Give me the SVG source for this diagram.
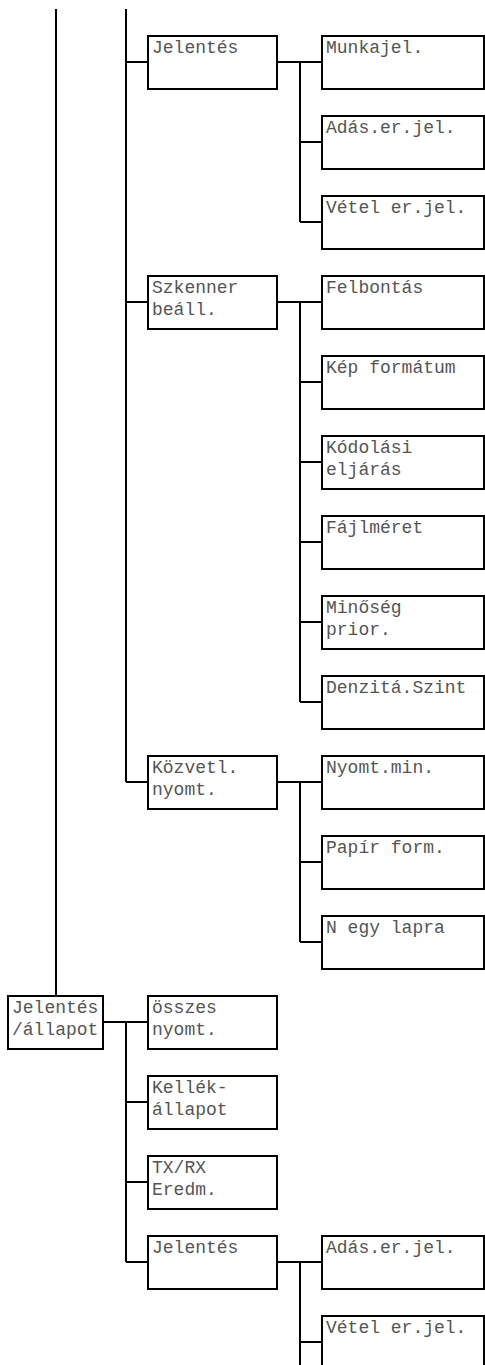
<svg xmlns="http://www.w3.org/2000/svg" width="485" height="1365" viewBox="0 0 485 1365">
<style>
.box{fill:#fff;stroke:#000;stroke-width:2}
.c{fill:none;stroke:#000;stroke-width:2}
text{font-family:"Liberation Mono","Courier New",monospace;font-size:18px;fill:#555}
</style>
<rect width="485" height="1365" fill="#fff"/>
<g id="connectors" class="c">
<path d="M56 9V996"/>
<path d="M126 9V782M126 62H148M126 302H148M126 782H148"/>
<path d="M277 62H322M300 62V222M300 142H322M300 222H322"/>
<path d="M277 302H322M300 302V702M300 382H322M300 462H322M300 542H322M300 622H322M300 702H322"/>
<path d="M277 782H322M300 782V942M300 862H322M300 942H322"/>
<path d="M103 1022H148M126 1022V1262M126 1102H148M126 1182H148M126 1262H148"/>
<path d="M277 1262H322M300 1262V1365M300 1342H322"/>
</g>
<g id="n-jelentes1"><rect class="box" x="148" y="36" width="129" height="53"/><text x="152" y="53">Jelentés</text></g>
<g id="n-munkajel"><rect class="box" x="322" y="36" width="162" height="53"/><text x="326" y="53">Munkajel.</text></g>
<g id="n-adas1"><rect class="box" x="322" y="116" width="162" height="53"/><text x="326" y="133">Adás.er.jel.</text></g>
<g id="n-vetel1"><rect class="box" x="322" y="196" width="162" height="53"/><text x="326" y="213">Vétel er.jel.</text></g>
<g id="n-szkenner"><rect class="box" x="148" y="276" width="129" height="53"/><text x="152" y="293">Szkenner</text><text x="152" y="315">beáll.</text></g>
<g id="n-felbontas"><rect class="box" x="322" y="276" width="162" height="53"/><text x="326" y="293">Felbontás</text></g>
<g id="n-kep"><rect class="box" x="322" y="356" width="162" height="53"/><text x="326" y="373">Kép formátum</text></g>
<g id="n-kodolasi"><rect class="box" x="322" y="436" width="162" height="53"/><text x="326" y="453">Kódolási</text><text x="326" y="475">eljárás</text></g>
<g id="n-fajlmeret"><rect class="box" x="322" y="516" width="162" height="53"/><text x="326" y="533">Fájlméret</text></g>
<g id="n-minoseg"><rect class="box" x="322" y="596" width="162" height="53"/><text x="326" y="613">Minőség</text><text x="326" y="635">prior.</text></g>
<g id="n-denzita"><rect class="box" x="322" y="676" width="162" height="53"/><text x="326" y="693">Denzitá.Szint</text></g>
<g id="n-kozvetl"><rect class="box" x="148" y="756" width="129" height="53"/><text x="152" y="773">Közvetl.</text><text x="152" y="795">nyomt.</text></g>
<g id="n-nyomtmin"><rect class="box" x="322" y="756" width="162" height="53"/><text x="326" y="773">Nyomt.min.</text></g>
<g id="n-papir"><rect class="box" x="322" y="836" width="162" height="53"/><text x="326" y="853">Papír form.</text></g>
<g id="n-negy"><rect class="box" x="322" y="916" width="162" height="53"/><text x="326" y="933">N egy lapra</text></g>
<g id="n-root"><rect class="box" x="8" y="996" width="95" height="53"/><text x="12" y="1013">Jelentés</text><text x="12" y="1035">/állapot</text></g>
<g id="n-osszes"><rect class="box" x="148" y="996" width="129" height="53"/><text x="152" y="1013">összes</text><text x="152" y="1035">nyomt.</text></g>
<g id="n-kellek"><rect class="box" x="148" y="1076" width="129" height="53"/><text x="152" y="1093">Kellék-</text><text x="152" y="1115">állapot</text></g>
<g id="n-txrx"><rect class="box" x="148" y="1156" width="129" height="53"/><text x="152" y="1173">TX/RX</text><text x="152" y="1195">Eredm.</text></g>
<g id="n-jelentes2"><rect class="box" x="148" y="1236" width="129" height="53"/><text x="152" y="1253">Jelentés</text></g>
<g id="n-adas2"><rect class="box" x="322" y="1236" width="162" height="53"/><text x="326" y="1253">Adás.er.jel.</text></g>
<g id="n-vetel2"><rect class="box" x="322" y="1316" width="162" height="53"/><text x="326" y="1333">Vétel er.jel.</text></g>
</svg>
